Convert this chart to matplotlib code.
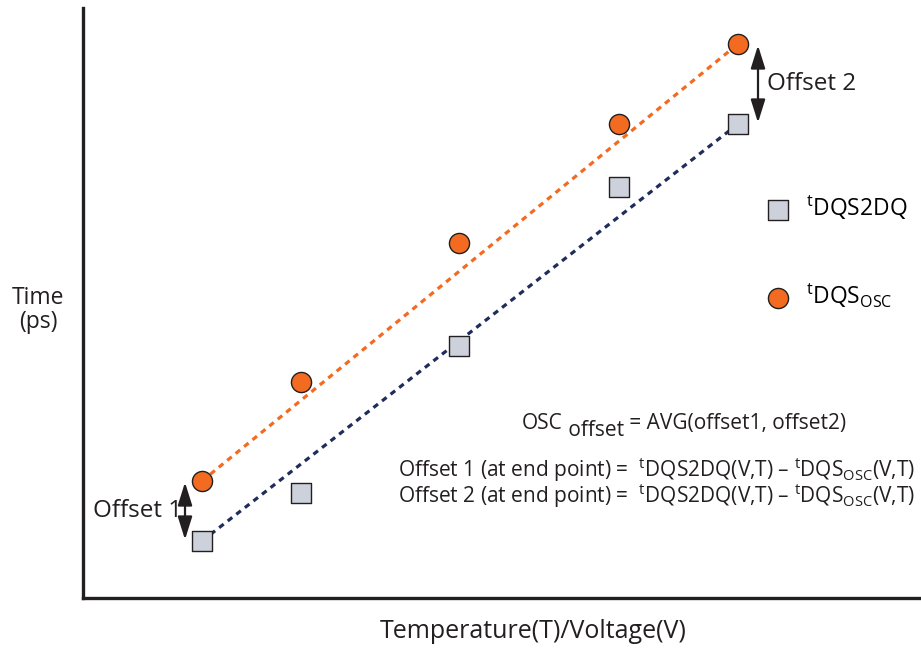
import matplotlib
matplotlib.use("Agg")
import matplotlib.pyplot as plt

plt.rcParams['font.family'] = ['Open Sans', 'DejaVu Sans']
plt.rcParams['mathtext.fontset'] = 'custom'
plt.rcParams['mathtext.rm'] = 'Open Sans'
plt.rcParams['mathtext.it'] = 'Open Sans'

# measurement steps along the temperature/voltage axis
steps = [1.19, 2.18, 3.76, 5.36, 6.55]
dqs2dq = [0.57, 1.05, 2.52, 4.11, 4.74]
dqs_osc = [1.17, 2.16, 3.55, 4.74, 5.54]

orange = '#f26b21'
navy = '#1f2d5a'
square_fill = '#cdd1dc'
ink = '#231f20'

fig = plt.figure(figsize=(9.21, 6.48), dpi=100)
ax = fig.add_axes([83 / 921, 50 / 648, (921 - 83) / 921, (598 - 8) / 648])
ax.set_xlim(0, 8.38)
ax.set_ylim(0, 5.90)

for side in ['top', 'right']:
    ax.spines[side].set_visible(False)
for side in ['left', 'bottom']:
    ax.spines[side].set_linewidth(2.4)
    ax.spines[side].set_color(ink)
ax.set_xticks([])
ax.set_yticks([])

# dashed trend lines between the end points
ax.plot([steps[0], steps[-1]], [dqs2dq[0], dqs2dq[-1]], ls=(0, (1.8, 1.6)), lw=2.3, color=navy, zorder=1)
ax.plot([steps[0], steps[-1]], [dqs_osc[0], dqs_osc[-1]], ls=(0, (1.8, 1.6)), lw=2.3, color=orange, zorder=1)

sq = ax.scatter(steps, dqs2dq, marker='s', s=190, facecolor=square_fill, edgecolor=ink, lw=1.0, zorder=3,
                label=r'$^{\mathrm{t}}$DQS2DQ')
ci = ax.scatter(steps, dqs_osc, marker='o', s=210, facecolor=orange, edgecolor=ink, lw=1.0, zorder=3,
                label=r'$^{\mathrm{t}}$DQS$_{\mathrm{OSC}}$')

ax.legend(handles=[sq, ci], loc='upper left', bbox_to_anchor=(0.791, 0.70), frameon=False,
          fontsize=16.5, labelspacing=2.6, handletextpad=0.22, borderaxespad=0)

# offset arrows at the two end points
arrow = dict(arrowstyle='<|-|>,head_length=0.7,head_width=0.22', lw=1.6, color=ink,
             mutation_scale=20, shrinkA=1, shrinkB=1)
ax.annotate('', xy=(steps[0] - 0.17, dqs_osc[0]), xytext=(steps[0] - 0.17, dqs2dq[0]), arrowprops=arrow)
ax.annotate('', xy=(steps[-1] + 0.2, dqs_osc[-1]), xytext=(steps[-1] + 0.2, dqs2dq[-1]), arrowprops=arrow)
ax.text(steps[0] - 0.2, (dqs_osc[0] + dqs2dq[0]) / 2, 'Offset 1', fontsize=17.5, ha='right', va='center', color=ink)
ax.text(steps[-1] + 0.29, (dqs_osc[-1] + dqs2dq[-1]) / 2, 'Offset 2', fontsize=17.5, ha='left', va='center', color=ink)

# equations
t1 = ax.text(4.39, 1.69, 'OSC', fontsize=15, ha='left', va='baseline', color=ink)
t2 = ax.annotate(' offset', xy=(1, 0), xycoords=t1, xytext=(0, -5), textcoords='offset points',
                 fontsize=15, ha='left', va='bottom', color=ink)
ax.annotate(' = AVG(offset1, offset2)', xy=(1, 0), xycoords=t2, xytext=(0, 5), textcoords='offset points',
            fontsize=15, ha='left', va='bottom', color=ink)
eq_line = r'Offset {} (at end point) =  $^{{\mathrm{{t}}}}$DQS2DQ(V,T) – $^{{\mathrm{{t}}}}$DQS$_{{\mathrm{{OSC}}}}$(V,T)'
ax.text(3.15, 1.15, eq_line.format(1) + '\n' + eq_line.format(2),
        fontsize=15, ha='left', va='center', color=ink, linespacing=0.92)

fig.text(38 / 921, 1 - 310 / 648, 'Time\n(ps)', fontsize=16.5, ha='center', va='center', color=ink, linespacing=1.05)
fig.text(533 / 921, 1 - 632 / 648, 'Temperature(T)/Voltage(V)', fontsize=18, ha='center', va='center', color=ink)

fig.savefig('out.png', dpi=100)
